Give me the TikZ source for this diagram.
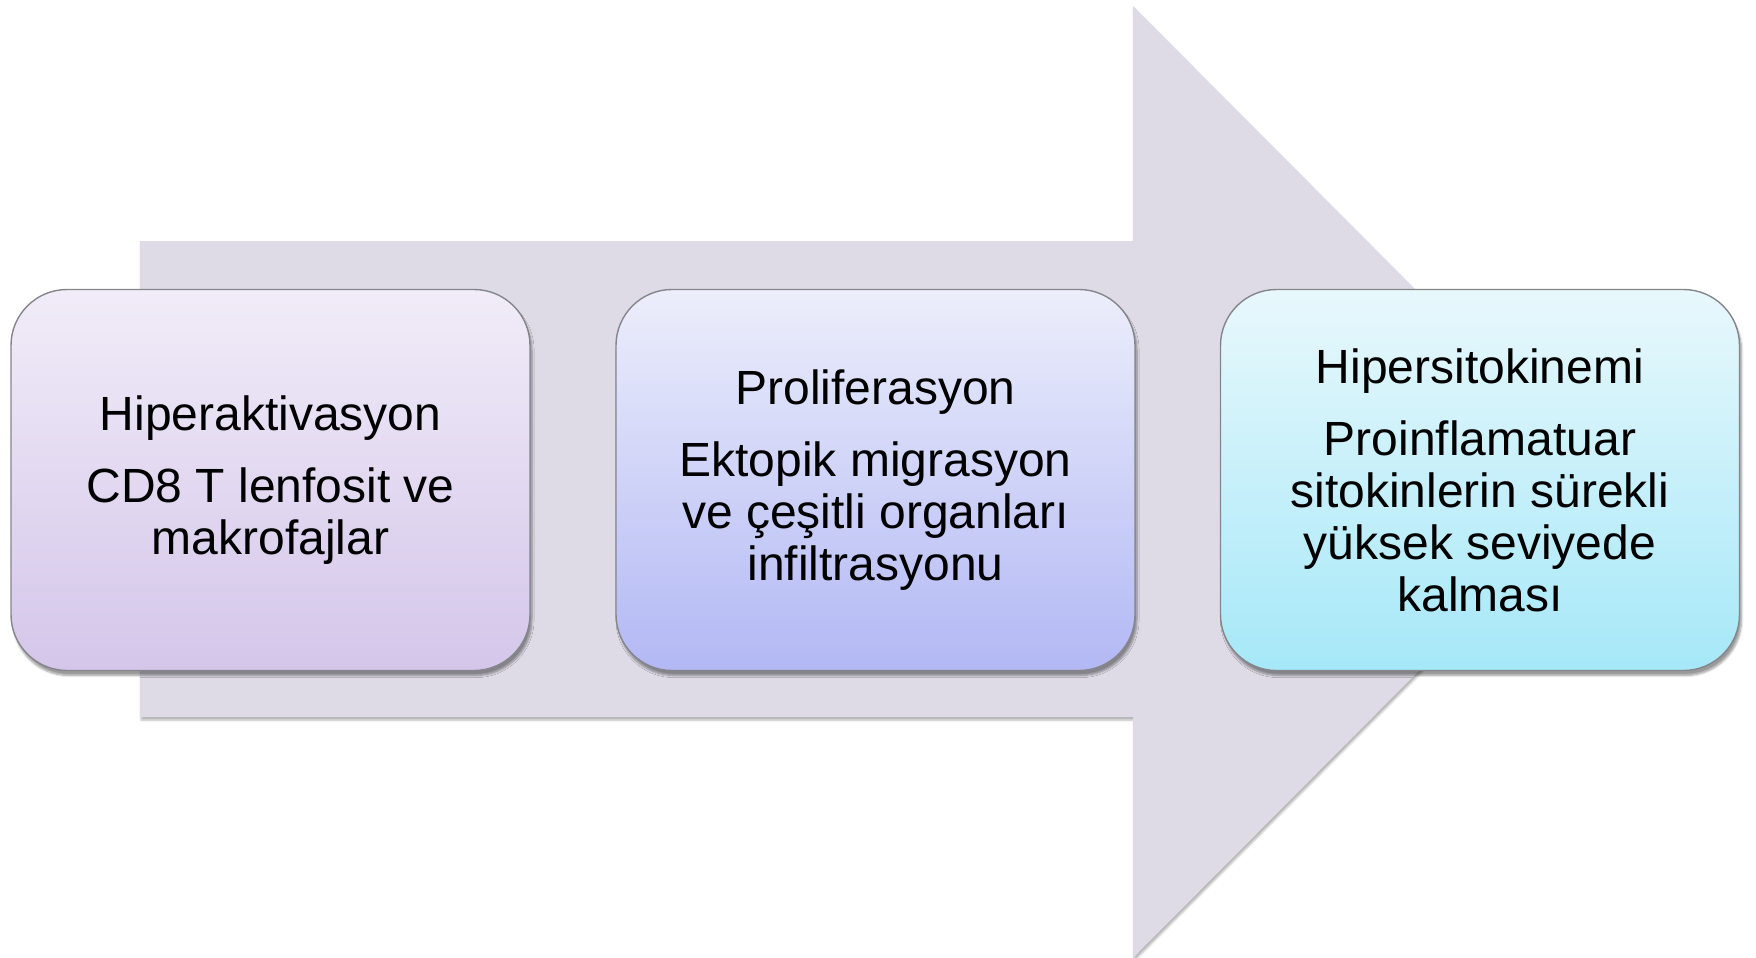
\documentclass[tikz,border=0pt]{standalone}
\usepackage{fontspec}
\setmainfont{Liberation Sans}
\usetikzlibrary{shadows.blur}
\definecolor{arrowfill}{HTML}{DEDBE6}
\definecolor{boxline}{HTML}{85858C}
\definecolor{aTop}{HTML}{F1ECF8}
\definecolor{aBot}{HTML}{D4C6EA}
\definecolor{bTop}{HTML}{ECEEFB}
\definecolor{bBot}{HTML}{B2B8F4}
\definecolor{cTop}{HTML}{E8F8FC}
\definecolor{cBot}{HTML}{A6E8F8}
\tikzset{
  stagebox/.style={rectangle, rounded corners=56pt, minimum width=519pt, minimum height=381pt,
    draw=boxline, line width=1.4pt, align=center, text=black,
    font=\fontsize{48}{52}\selectfont,
    blur shadow={shadow xshift=2pt, shadow yshift=-5pt, shadow blur steps=6, shadow opacity=40}},
  bigarrow/.style={fill=arrowfill, draw=none,
    blur shadow={shadow xshift=1pt, shadow yshift=-3pt, shadow blur steps=4, shadow opacity=30}}
}
\begin{document}
\begin{tikzpicture}[x=1pt,y=-1pt]
\useasboundingbox (0,0) rectangle (1756,958);
\coordinate (s1) at (140,241);
\coordinate (s2) at (1133,241);
\coordinate (h1) at (1133,6);
\coordinate (tip) at (1607,482);
\coordinate (h2) at (1133,958);
\coordinate (s3) at (1133,717);
\coordinate (s4) at (140,717);
\path[bigarrow] (s1) -- (s2) -- (h1) -- (tip) -- (h2) -- (s3) -- (s4) -- cycle;
\node[stagebox, top color=aTop, bottom color=aBot] (b1) at (270.5,480)
  {Hiperaktivasyon\\[20pt]CD8 T lenfosit ve\\makrofajlar};
\node[stagebox, top color=bTop, bottom color=bBot] (b2) at (875.5,480)
  {Proliferasyon\\[20pt]Ektopik migrasyon\\ve çeşitli organları\\infiltrasyonu};
\node[stagebox, top color=cTop, bottom color=cBot] (b3) at (1480,480)
  {Hipersitokinemi\\[20pt]Proinflamatuar\\sitokinlerin sürekli\\yüksek seviyede\\kalması};
\end{tikzpicture}
\end{document}
